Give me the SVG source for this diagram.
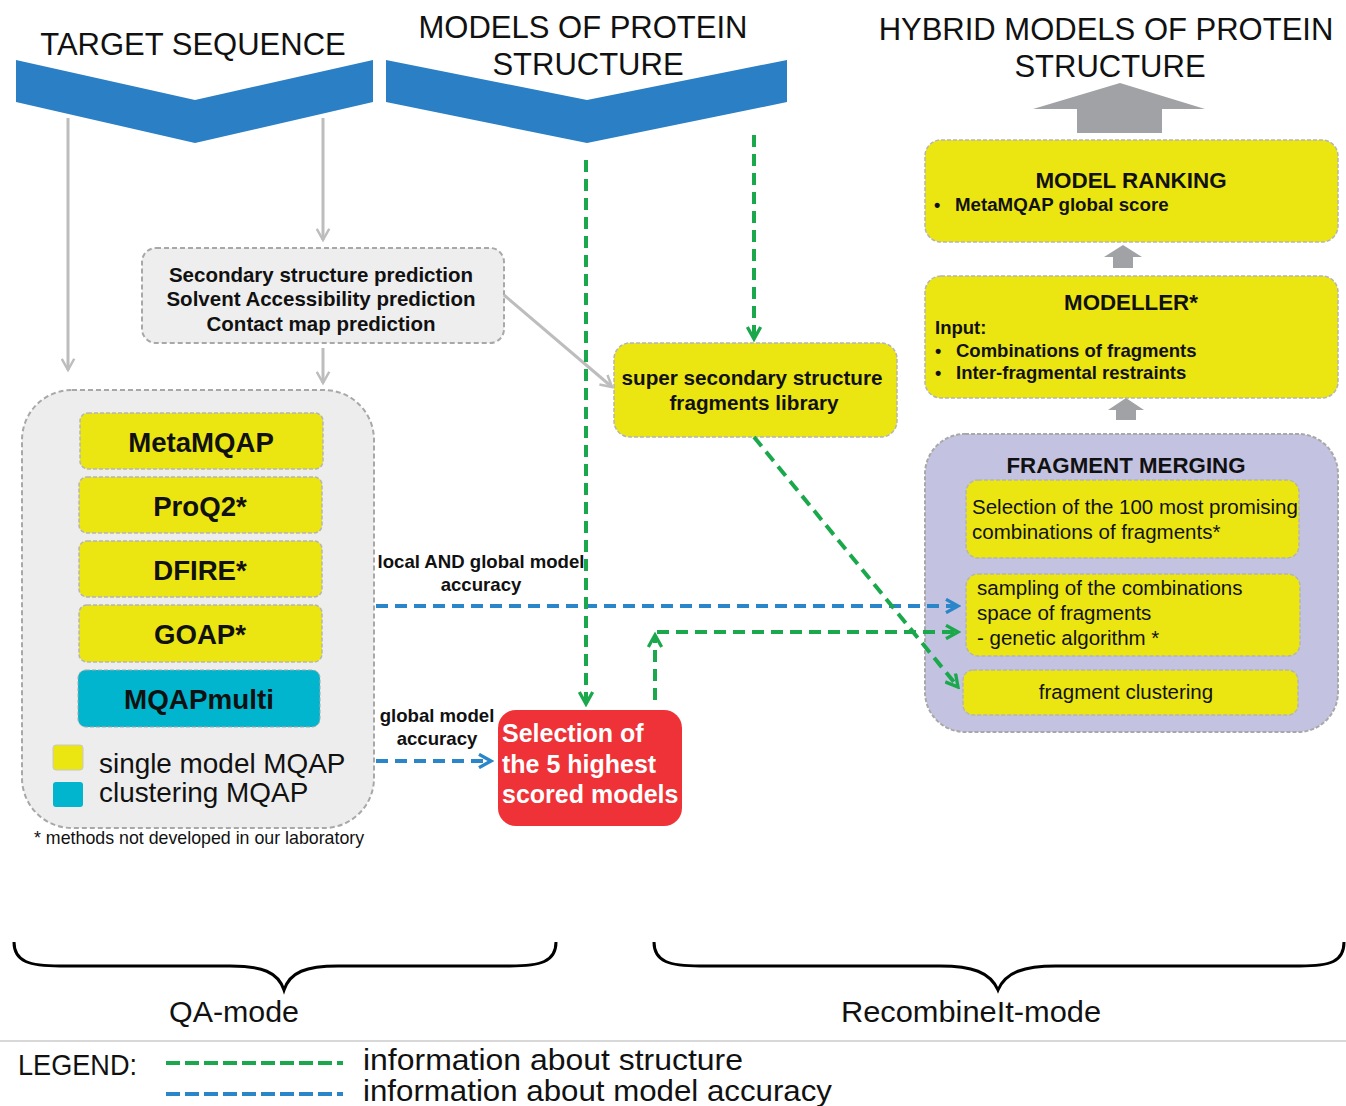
<svg xmlns="http://www.w3.org/2000/svg" width="1346" height="1106" viewBox="0 0 1346 1106">
<style>
.h{font-family:"Liberation Sans",Arial,sans-serif;font-size:31px;fill:#111}
.b{font-family:"Liberation Sans",Arial,sans-serif;font-weight:bold;fill:#111}
.n{font-family:"Liberation Sans",Arial,sans-serif;fill:#111}
.c{font-family:"Liberation Sans Narrow","Liberation Sans",sans-serif;fill:#111;font-size:29px}
.ybox{fill:#ebe612;stroke:#b5b5b5;stroke-width:1.5;stroke-dasharray:4 2}
.gbox{fill:#eeeeee;stroke:#a8a8a8;stroke-width:2;stroke-dasharray:5 3}
.grn{fill:none;stroke:#1ba84c;stroke-width:4;stroke-dasharray:12 7}
.blu{fill:none;stroke:#2b86c9;stroke-width:4;stroke-dasharray:12 7}
.gry{fill:none;stroke:#bdbdbd;stroke-width:3}
.w{fill:#fff}
</style>
<defs>
<marker id="mg" viewBox="0 0 12 12" refX="10" refY="6" markerWidth="4" markerHeight="4" orient="auto" markerUnits="strokeWidth"><path d="M1,1 L10,6 L1,11" fill="none" stroke="#1ba84c" stroke-width="2.5"/></marker>
<marker id="mb" viewBox="0 0 12 12" refX="10" refY="6" markerWidth="4" markerHeight="4" orient="auto" markerUnits="strokeWidth"><path d="M1,1 L10,6 L1,11" fill="none" stroke="#2b86c9" stroke-width="2.5"/></marker>
<marker id="ma" viewBox="0 0 12 12" refX="10" refY="6" markerWidth="5" markerHeight="5" orient="auto" markerUnits="strokeWidth"><path d="M1,1 L10,6 L1,11" fill="none" stroke="#bdbdbd" stroke-width="2"/></marker>
</defs>

<g id="target-sequence">
<polygon points="16,60 195,100 373,60 373,102 195,143 16,102" fill="#2a7fc5"/>
<text class="h" x="193" y="55" text-anchor="middle">TARGET SEQUENCE</text>
</g>
<g id="models">
<polygon points="386,60 587,100 787,60 787,102 587,143 386,102" fill="#2a7fc5"/>
<text class="h" x="583" y="38" text-anchor="middle">MODELS OF PROTEIN</text>
<text class="h" x="588" y="75" text-anchor="middle">STRUCTURE</text>
</g>
<g id="hybrid">
<text class="h" x="1106" y="40" text-anchor="middle">HYBRID MODELS OF PROTEIN</text>
<text class="h" x="1110" y="77" text-anchor="middle">STRUCTURE</text>
<polygon points="1033,109 1120,83 1205,109 1162,109 1162,133 1077,133 1077,109" fill="#a0a2a5"/>
</g>

<g id="model-ranking">
<rect class="ybox" x="925" y="140" width="413" height="102" rx="16"/>
<text class="b" x="1131" y="188" font-size="22.4" text-anchor="middle">MODEL RANKING</text>
<text class="b" x="934" y="211" font-size="18">•</text>
<text class="b" x="955" y="211" font-size="18.7">MetaMQAP global score</text>
</g>
<g id="arrow-r"><polygon points="1104,257 1123,245 1142,257 1133,257 1133,268 1113,268 1113,257" fill="#a0a2a5"/></g>
<g id="modeller">
<rect class="ybox" x="925" y="276" width="413" height="122" rx="16"/>
<text class="b" x="1131" y="310" font-size="22.3" text-anchor="middle">MODELLER*</text>
<text class="b" x="935" y="334" font-size="18.5">Input:</text>
<text class="b" x="935" y="357" font-size="18">•</text>
<text class="b" x="956" y="357" font-size="18.5">Combinations of fragments</text>
<text class="b" x="935" y="379" font-size="18">•</text>
<text class="b" x="956" y="379" font-size="18.5">Inter-fragmental restraints</text>
</g>
<g id="arrow-m"><polygon points="1108,410 1126,398 1144,410 1136,410 1136,420 1116,420 1116,410" fill="#a0a2a5"/></g>

<g id="fragment-merging">
<rect x="925" y="434" width="413" height="298" rx="40" fill="#c3c3e1" stroke="#a8a8a8" stroke-width="2" stroke-dasharray="4 2"/>
<text class="b" x="1126" y="473" font-size="22.3" text-anchor="middle">FRAGMENT MERGING</text>
</g>
<g id="selection-100">
<rect class="ybox" x="966" y="480" width="333" height="78" rx="12"/>
<text class="n" x="972" y="514" font-size="20.5">Selection of the 100 most promising</text>
<text class="n" x="972" y="539" font-size="20.5">combinations of fragments*</text>
</g>
<g id="sampling">
<rect class="ybox" x="966" y="574" width="334" height="82" rx="12"/>
<text class="n" x="977" y="595" font-size="20.5">sampling of the combinations</text>
<text class="n" x="977" y="620" font-size="20.5">space of fragments</text>
<text class="n" x="977" y="645" font-size="20.5">- genetic algorithm *</text>
</g>
<g id="clustering">
<rect class="ybox" x="963" y="670" width="335" height="45" rx="10"/>
<text class="n" x="1126" y="699" font-size="20.5" text-anchor="middle">fragment clustering</text>
</g>

<g id="predictions">
<rect class="gbox" x="142" y="248" width="362" height="95" rx="14"/>
<text class="b" x="321" y="282" font-size="20.5" text-anchor="middle">Secondary structure prediction</text>
<text class="b" x="321" y="306" font-size="20.5" text-anchor="middle">Solvent Accessibility prediction</text>
<text class="b" x="321" y="331" font-size="20.5" text-anchor="middle">Contact map prediction</text>
</g>

<g id="super-secondary">
<rect class="ybox" x="614" y="343" width="283" height="94" rx="16"/>
<text class="b" x="752" y="385" font-size="20.7" text-anchor="middle">super secondary structure</text>
<text class="b" x="754" y="410" font-size="20.7" text-anchor="middle">fragments library</text>
</g>

<g id="mqap-group">
<rect x="22" y="390" width="352" height="438" rx="50" fill="#ededed" stroke="#a8a8a8" stroke-width="2" stroke-dasharray="5 3"/>
<rect class="ybox" x="80" y="413" width="243" height="56" rx="8"/>
<text class="b" x="201" y="452" font-size="27.6" text-anchor="middle">MetaMQAP</text>
<rect class="ybox" x="79" y="477" width="243" height="56" rx="8"/>
<text class="b" x="200" y="516" font-size="27.6" text-anchor="middle">ProQ2*</text>
<rect class="ybox" x="79" y="541" width="243" height="56" rx="8"/>
<text class="b" x="200" y="580" font-size="27.6" text-anchor="middle">DFIRE*</text>
<rect class="ybox" x="79" y="605" width="243" height="57" rx="8"/>
<text class="b" x="200" y="644" font-size="27.6" text-anchor="middle">GOAP*</text>
<rect x="78" y="670" width="242" height="57" rx="8" fill="#00b5cd" stroke="#a8a8a8" stroke-width="1" stroke-dasharray="4 2"/>
<text class="b" x="199" y="709" font-size="27.8" text-anchor="middle">MQAPmulti</text>
<rect x="53" y="745" width="30" height="25" rx="3" fill="#ebe612" stroke="#c8c8c8" stroke-width="1"/>
<rect x="53" y="782" width="30" height="25" rx="3" fill="#00b5cd"/>
<text class="n" x="99" y="773" font-size="27.9">single model MQAP</text>
<text class="n" x="99" y="802" font-size="27.9">clustering MQAP</text>
</g>
<text class="n" x="34" y="844" font-size="17.8">* methods not developed in our laboratory</text>

<g id="selection-5">
<rect x="498" y="710" width="184" height="116" rx="18" fill="#ee3237"/>
<text class="b w" x="502" y="742" font-size="25">Selection of</text>
<text class="b w" x="502" y="773" font-size="25">the 5 highest</text>
<text class="b w" x="502" y="803" font-size="25">scored models</text>
</g>

<g id="connectors">
<line class="gry" x1="68" y1="118" x2="68" y2="370" marker-end="url(#ma)"/>
<line class="gry" x1="323" y1="118" x2="323" y2="240" marker-end="url(#ma)"/>
<line class="gry" x1="323" y1="348" x2="323" y2="383" marker-end="url(#ma)"/>
<line class="gry" x1="504" y1="295" x2="612" y2="387" marker-end="url(#ma)"/>
<line class="blu" x1="376" y1="606" x2="958" y2="606" marker-end="url(#mb)"/>
<line class="blu" x1="376" y1="761" x2="491" y2="761" marker-end="url(#mb)"/>
<line class="grn" x1="586" y1="160" x2="586" y2="704" marker-end="url(#mg)"/>
<line class="grn" x1="754" y1="135" x2="754" y2="339" marker-end="url(#mg)"/>
<line class="grn" x1="655" y1="700" x2="655" y2="635" marker-end="url(#mg)"/>
<line class="grn" x1="657" y1="632" x2="958" y2="632" marker-end="url(#mg)"/>
<line class="grn" x1="754" y1="437" x2="958" y2="687" marker-end="url(#mg)"/>
</g>
<text class="b" x="481" y="568" font-size="18.6" text-anchor="middle">local AND global model</text>
<text class="b" x="481" y="591" font-size="18.6" text-anchor="middle">accuracy</text>
<text class="b" x="437" y="722" font-size="18.6" text-anchor="middle">global model</text>
<text class="b" x="437" y="745" font-size="18.6" text-anchor="middle">accuracy</text>

<g id="braces" fill="none" stroke="#000" stroke-width="3">
<path d="M14,942 C14,962 30,966 60,966 L230,966 C262,966 278,972 284,990 C290,972 306,966 338,966 L510,966 C540,966 556,962 556,942"/>
<path d="M654,942 C654,962 670,966 700,966 L940,966 C972,966 990,972 998,990 C1006,972 1024,966 1056,966 L1300,966 C1330,966 1344,962 1344,942"/>
</g>
<text class="c" x="234" y="1022" text-anchor="middle" textLength="130" lengthAdjust="spacingAndGlyphs">QA-mode</text>
<text class="c" x="971" y="1022" text-anchor="middle" textLength="260" lengthAdjust="spacingAndGlyphs">RecombineIt-mode</text>
<line x1="0" y1="1041" x2="1346" y2="1041" stroke="#d8d8d8" stroke-width="2"/>
<g id="legend">
<text class="c" x="18" y="1075" textLength="119" lengthAdjust="spacingAndGlyphs">LEGEND:</text>
<line x1="166" y1="1063" x2="343" y2="1063" stroke="#1ba84c" stroke-width="4" stroke-dasharray="14 5"/>
<line x1="166" y1="1094" x2="343" y2="1094" stroke="#2b86c9" stroke-width="4" stroke-dasharray="14 5"/>
<text class="c" x="363" y="1070" textLength="380" lengthAdjust="spacingAndGlyphs">information about structure</text>
<text class="c" x="363" y="1101" textLength="469" lengthAdjust="spacingAndGlyphs">information about model accuracy</text>
</g>
</svg>
